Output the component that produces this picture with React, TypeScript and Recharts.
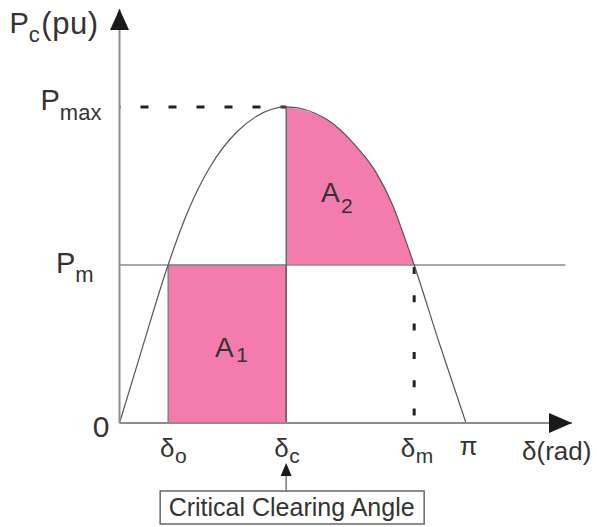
import React from 'react';
import { ComposedChart, Line, Area, XAxis, YAxis, ReferenceArea, ReferenceLine, ReferenceDot } from 'recharts';

// power-angle curve (delta in rad, power in pu)
const curveDelta = [0, 0.2, 0.44, 0.62, 0.82, 1.06, 1.24, 1.51, 1.88, 2.12, 2.33, 2.48, 2.57, 2.67, 2.9, 3.14];
const curvePower = [0, 0.23, 0.5, 0.67, 0.81, 0.92, 0.97, 1.0, 0.96, 0.885, 0.79, 0.685, 0.6, 0.5, 0.25, 0];

const deltaO = 0.44;
const deltaC = 1.51;
const deltaM = 2.67;
const piVal = 3.14;
const pm = 0.5;
const pmax = 1;

const xTicks = [deltaO, deltaC, deltaM, piVal];
const xTickMain = ['δ', 'δ', 'δ', 'π'];
const xTickSub = ['o', 'c', 'm', ''];
const yTicks = [0, pm, pmax];
const yTickMain = ['0', 'P', 'P'];
const yTickSub = ['', 'm', 'max'];

const xMax = 4.1;
const yMax = 1.31;
const pmLineEnd = 4.04;

const rows = curveDelta.map((d, i) => ({
  d,
  p: curvePower[i],
  a2: d >= deltaC && d <= deltaM ? curvePower[i] : undefined,
}));

const FONT = '"Liberation Sans", Arial, Helvetica, sans-serif';
const INK = '#333';
const PINK = '#F47BAD';

const XTick = ({ x, y, payload }: any) => {
  const i = xTicks.indexOf(payload.value);
  if (i < 0) return null;
  if (!xTickSub[i]) {
    return (
      <text x={x + 2.5} y={y + 32} textAnchor="middle" fontSize={26} fontFamily={FONT} fill={INK}>
        {xTickMain[i]}
      </text>
    );
  }
  const shift = [-8, -12, -13.5][i] ?? -12;
  return (
    <text x={x + shift} y={y + 34} fontSize={26} fontFamily={FONT} fill={INK}>
      <tspan>{xTickMain[i]}</tspan>
      <tspan dx={0.5} dy={5.5} fontSize={21}>{xTickSub[i]}</tspan>
    </text>
  );
};

const YTick = ({ x, y, payload }: any) => {
  const i = yTicks.indexOf(payload.value);
  if (i === 0) {
    return (
      <text x={x - 10} y={y + 14} textAnchor="end" fontSize={30} fontFamily={FONT} fill={INK}>{yTickMain[0]}</text>
    );
  }
  if (i === 1) {
    return (
      <text x={x - 63.5} y={y + 8} fontSize={29} fontFamily={FONT} fill={INK}>
        <tspan>{yTickMain[1]}</tspan>
        <tspan dy={9} fontSize={22}>{yTickSub[1]}</tspan>
      </text>
    );
  }
  if (i === 2) {
    return (
      <text x={x - 79} y={y + 3} fontSize={29} fontFamily={FONT} fill={INK}>
        <tspan>{yTickMain[2]}</tspan>
        <tspan dy={10} fontSize={22}>{yTickSub[2]}</tspan>
      </text>
    );
  }
  return null;
};

const UpArrow = ({ cx, cy }: any) => (
  <g>
    <polygon points={`${cx},${cy} ${cx - 9.5},${cy + 21} ${cx + 9.5},${cy + 21}`} fill="#1a1a1a" />
    <text x={cx - 110} y={cy + 24} fontSize={29} fontFamily={FONT} fill={INK}>
      <tspan>P</tspan>
      <tspan dy={9} fontSize={22}>c</tspan>
      <tspan dx={1.5} dy={-8} fontSize={31} letterSpacing={0.5}>(pu)</tspan>
    </text>
  </g>
);

const RightArrow = ({ cx, cy }: any) => (
  <g>
    <polygon points={`${cx},${cy} ${cx - 23},${cy - 10} ${cx - 23},${cy + 10}`} fill="#1a1a1a" />
    <text x={cx - 50} y={cy + 36.5} fontSize={26} fontFamily={FONT} fill={INK}>δ(rad)</text>
  </g>
);

const AreaLabel = (sub: string, subDx: number, subDy: number) => ({ cx, cy }: any) => (
  <text x={cx} y={cy} fontSize={28} fontFamily={FONT} fill={INK}>
    <tspan>A</tspan>
    <tspan dx={subDx} dy={subDy} fontSize={21}>{sub}</tspan>
  </text>
);

const ClearingNote = ({ cx, cy }: any) => (
  <g>
    <line x1={cx} y1={cy + 52} x2={cx} y2={cy + 68} stroke="#777" strokeWidth={1.5} />
    <polygon points={`${cx},${cy + 40} ${cx - 5.5},${cy + 53} ${cx + 5.5},${cy + 53}`} fill="#1a1a1a" />
    <rect x={cx - 126} y={cy + 68} width={264} height={33} fill="#fff" stroke="#666" strokeWidth={1.5} />
    <text x={cx + 5.5} y={cy + 93} textAnchor="middle" fontSize={25} fontFamily={FONT} fill={INK}>
      Critical Clearing Angle
    </text>
  </g>
);

export default function App() {
  return (
    <div style={{ position: 'absolute', left: 0, top: 0, width: 597, height: 527, background: '#fff' }}>
      <ComposedChart width={597} height={527} data={rows} margin={{ top: 9, right: 25, bottom: 74, left: 0 }}>
        <XAxis
          dataKey="d"
          type="number"
          domain={[0, xMax]}
          ticks={xTicks}
          tick={<XTick />}
          tickLine={false}
          tickSize={0}
          tickMargin={0}
          height={30}
          interval={0}
          axisLine={{ stroke: '#8c8c8c', strokeWidth: 2 }}
        />
        <YAxis
          type="number"
          domain={[0, yMax]}
          ticks={yTicks}
          tick={<YTick />}
          tickLine={false}
          tickSize={0}
          tickMargin={0}
          width={119.5}
          interval={0}
          axisLine={{ stroke: '#8c8c8c', strokeWidth: 2 }}
        />
        <ReferenceArea x1={deltaO} x2={deltaC} y1={0} y2={pm} fill={PINK} fillOpacity={1} stroke="#666" strokeWidth={1} />
        <Area
          dataKey="a2"
          type="monotone"
          baseValue={pm}
          fill={PINK}
          fillOpacity={1}
          stroke="none"
          connectNulls={false}
          isAnimationActive={false}
        />
        <ReferenceLine segment={[{ x: 0, y: pm }, { x: pmLineEnd, y: pm }]} stroke="#8c8c8c" strokeWidth={1.5} />
        <ReferenceLine segment={[{ x: deltaC, y: pmax }, { x: deltaC, y: 0 }]} stroke="#555" strokeWidth={1.2} />
        <ReferenceLine
          segment={[{ x: 0, y: pmax }, { x: deltaC, y: pmax }]}
          stroke="#222"
          strokeWidth={3}
          strokeDasharray="8 20"
          strokeDashoffset={7}
        />
        <ReferenceLine
          segment={[{ x: deltaM, y: pm }, { x: deltaM, y: 0 }]}
          stroke="#222"
          strokeWidth={3}
          strokeDasharray="7 21.3"
          strokeDashoffset={26.3}
        />
        <Line dataKey="p" type="monotone" stroke="#555" strokeWidth={1.2} dot={false} isAnimationActive={false} />
        <ReferenceDot x={0} y={yMax} r={0} shape={<UpArrow />} />
        <ReferenceDot x={xMax} y={0} r={0} shape={<RightArrow />} />
        <ReferenceDot x={0.865} y={0.21} r={0} shape={AreaLabel('1', 2.5, 5)} />
        <ReferenceDot x={1.826} y={0.7} r={0} shape={AreaLabel('2', 1.3, 11)} />
        <ReferenceDot x={deltaC} y={0} r={0} shape={<ClearingNote />} />
      </ComposedChart>
    </div>
  );
}
